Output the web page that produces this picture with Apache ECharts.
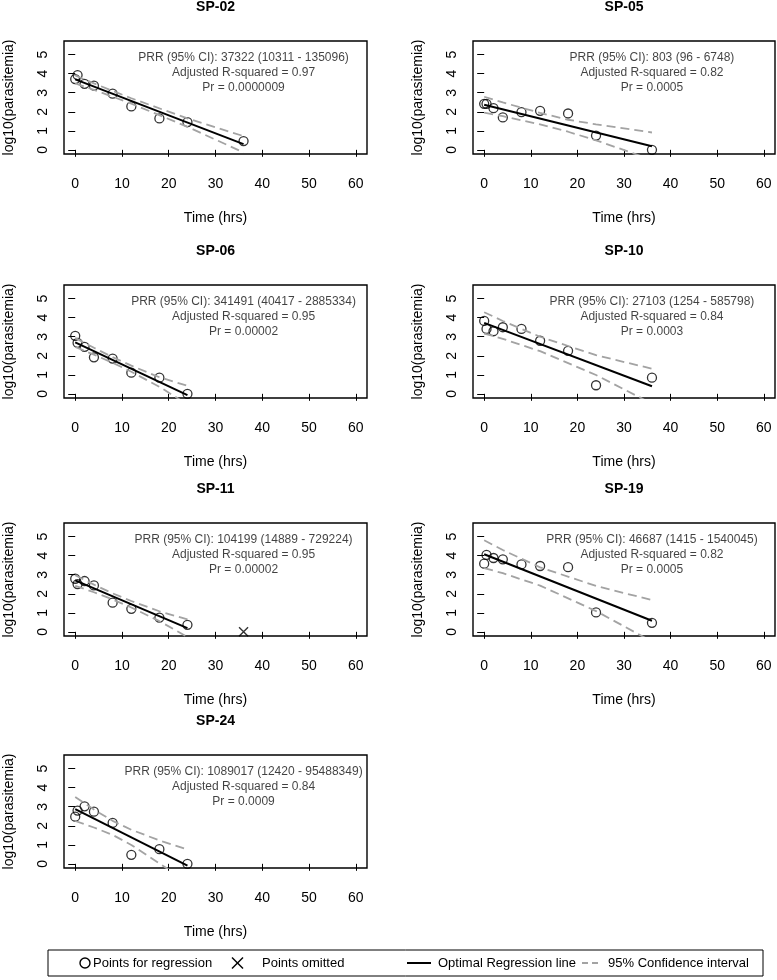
<!DOCTYPE html>
<html><head><meta charset="utf-8">
<script src="https://cdn.jsdelivr.net/npm/echarts@6/dist/echarts.min.js"></script>
<style>html,body{margin:0;padding:0;background:#fff}#c{width:777px;height:980px}</style>
</head><body><div id="c"></div>
<script>
// ---------- tick labels ----------
const xTicks = [0, 10, 20, 30, 40, 50, 60];
const yTicks = [0, 1, 2, 3, 4, 5];

// ---------- panel names ----------
const panelNames = ['SP-02', 'SP-05', 'SP-06', 'SP-10', 'SP-11', 'SP-19', 'SP-24'];

// ---------- observed points (time hrs, log10 parasitemia) ----------
const sp02Time = [0, 0.5, 2, 4, 8, 12, 18, 24, 36];
const sp02Log  = [3.72, 3.93, 3.47, 3.37, 2.95, 2.28, 1.65, 1.46, 0.46];
const sp05Time = [0, 0.5, 2, 4, 8, 12, 18, 24, 36];
const sp05Log  = [2.42, 2.42, 2.19, 1.70, 1.98, 2.05, 1.91, 0.75, 0.0];
const sp06Time = [0, 0.5, 2, 4, 8, 12, 18, 24];
const sp06Log  = [3.05, 2.68, 2.47, 1.92, 1.85, 1.11, 0.85, 0.0];
const sp10Time = [0, 0.5, 2, 4, 8, 12, 18, 24, 36];
const sp10Log  = [3.83, 3.41, 3.29, 3.50, 3.41, 2.79, 2.26, 0.45, 0.85];
const sp11Time = [0, 0.5, 2, 4, 8, 12, 18, 24];
const sp11Log  = [2.79, 2.51, 2.67, 2.44, 1.53, 1.21, 0.75, 0.37];
const sp11OmitTime = [36];
const sp11OmitLog  = [0.0];
const sp19Time = [0, 0.5, 2, 4, 8, 12, 18, 24, 36];
const sp19Log  = [3.58, 4.04, 3.88, 3.81, 3.54, 3.46, 3.40, 1.02, 0.47];
const sp24Time = [0, 0.5, 2, 4, 8, 12, 18, 24];
const sp24Log  = [2.48, 2.80, 3.02, 2.74, 2.15, 0.47, 0.77, 0.0];

// ---------- regression line (start, end) ----------
const sp02FitX = [0, 36]; const sp02FitY = [3.70, 0.30];
const sp05FitX = [0, 36]; const sp05FitY = [2.37, 0.19];
const sp06FitX = [0, 24]; const sp06FitY = [2.70, -0.07];
const sp10FitX = [0, 36]; const sp10FitY = [3.73, 0.40];
const sp11FitX = [0, 24]; const sp11FitY = [2.70, 0.19];
const sp19FitX = [0, 36]; const sp19FitY = [4.08, 0.58];
const sp24FitX = [0, 24]; const sp24FitY = [2.88, -0.10];

// ---------- 95% confidence interval ----------
const sp02CiX = [0, 4, 12, 24, 36];
const sp02CiUp = [3.91, 3.49, 2.71, 1.65, 0.72];
const sp02CiLo = [3.49, 3.15, 2.43, 1.21, -0.14];
const sp05CiX = [0, 4, 12, 18, 24, 36];
const sp05CiUp = [2.79, 2.49, 1.94, 1.58, 1.34, 0.91];
const sp05CiLo = [1.95, 1.77, 1.34, 0.95, 0.50, -0.53];
const sp06CiX = [0, 4, 8, 12, 18, 24];
const sp06CiUp = [2.94, 2.42, 1.93, 1.48, 0.87, 0.42];
const sp06CiLo = [2.46, 2.06, 1.63, 1.16, 0.37, -0.56];
const sp10CiX = [0, 4, 12, 24, 36];
const sp10CiUp = [4.29, 3.83, 3.00, 2.03, 1.32];
const sp10CiLo = [3.17, 2.89, 2.24, 0.99, -0.52];
const sp11CiX = [0, 4, 8, 12, 18, 24];
const sp11CiUp = [2.98, 2.48, 2.02, 1.62, 1.08, 0.65];
const sp11CiLo = [2.42, 2.08, 1.70, 1.28, 0.56, -0.27];
const sp19CiX = [0, 4, 12, 24, 36];
const sp19CiUp = [4.81, 4.30, 3.39, 2.41, 1.67];
const sp19CiLo = [3.35, 3.08, 2.43, 1.09, -0.51];
const sp24CiX = [0, 4, 8, 12, 18, 24];
const sp24CiUp = [3.51, 2.85, 2.26, 1.79, 1.23, 0.75];
const sp24CiLo = [2.25, 1.91, 1.52, 0.99, 0.02, -0.95];

// ---------- annotation texts ----------
const prrTexts = [
  'PRR (95% CI): 37322 (10311 - 135096)',
  'PRR (95% CI): 803 (96 - 6748)',
  'PRR (95% CI): 341491 (40417 - 2885334)',
  'PRR (95% CI): 27103 (1254 - 585798)',
  'PRR (95% CI): 104199 (14889 - 729224)',
  'PRR (95% CI): 46687 (1415 - 1540045)',
  'PRR (95% CI): 1089017 (12420 - 95488349)'
];
const r2Texts = ['0.97', '0.82', '0.95', '0.84', '0.95', '0.82', '0.84'];
const prTexts = ['0.0000009', '0.0005', '0.00002', '0.0003', '0.00002', '0.0005', '0.0009'];

// ---------- legend labels ----------
const legendLabels = ['Points for regression', 'Points omitted', 'Optimal Regression line', '95% Confidence interval'];

// ======================================================
const FONT = '"Liberation Sans", Arial, Helvetica, sans-serif';
const zip = (a, b) => a.map((v, i) => [v, b[i]]);

const panels = [
  {pts: zip(sp02Time, sp02Log), fit: zip(sp02FitX, sp02FitY), up: zip(sp02CiX, sp02CiUp), lo: zip(sp02CiX, sp02CiLo)},
  {pts: zip(sp05Time, sp05Log), fit: zip(sp05FitX, sp05FitY), up: zip(sp05CiX, sp05CiUp), lo: zip(sp05CiX, sp05CiLo)},
  {pts: zip(sp06Time, sp06Log), fit: zip(sp06FitX, sp06FitY), up: zip(sp06CiX, sp06CiUp), lo: zip(sp06CiX, sp06CiLo)},
  {pts: zip(sp10Time, sp10Log), fit: zip(sp10FitX, sp10FitY), up: zip(sp10CiX, sp10CiUp), lo: zip(sp10CiX, sp10CiLo)},
  {pts: zip(sp11Time, sp11Log), fit: zip(sp11FitX, sp11FitY), up: zip(sp11CiX, sp11CiUp), lo: zip(sp11CiX, sp11CiLo), omit: zip(sp11OmitTime, sp11OmitLog)},
  {pts: zip(sp19Time, sp19Log), fit: zip(sp19FitX, sp19FitY), up: zip(sp19CiX, sp19CiUp), lo: zip(sp19CiX, sp19CiLo)},
  {pts: zip(sp24Time, sp24Log), fit: zip(sp24FitX, sp24FitY), up: zip(sp24CiX, sp24CiUp), lo: zip(sp24CiX, sp24CiLo)}
];

const colLeft = [64, 473];
const colWidth = [303, 302];
const rowTop = [41, 285, 523, 755];
const plotH = 113;

const grids = [], xAxes = [], yAxes = [], series = [], graphics = [];

panels.forEach((p, i) => {
  const col = i % 2, row = Math.floor(i / 2);
  const L = colLeft[col], W = colWidth[col], T = rowTop[row];
  grids.push({left: L, top: T, width: W, height: plotH, show: true,
    borderColor: '#000', borderWidth: 1.4, backgroundColor: 'rgba(0,0,0,0)', containLabel: false});
  xAxes.push({
    gridIndex: i, type: 'value', min: -2.4, max: 62.4,
    axisLine: {show: false},
    axisTick: {show: true, inside: false, length: 7, customValues: xTicks, lineStyle: {color: '#000', width: 1}},
    axisLabel: {show: true, customValues: xTicks, margin: 23, fontSize: 14, color: '#000', fontFamily: FONT},
    splitLine: {show: false},
    name: 'Time (hrs)', nameLocation: 'middle', nameGap: 57,
    nameTextStyle: {fontSize: 14, color: '#000', fontFamily: FONT}
  });
  yAxes.push({
    gridIndex: i, type: 'value', min: -0.22, max: 5.72,
    axisLine: {show: false},
    axisTick: {show: true, inside: false, length: 7, customValues: yTicks, lineStyle: {color: '#000', width: 1}},
    axisLabel: {show: true, customValues: yTicks, rotate: 90, margin: 14, fontSize: 14, color: '#000', fontFamily: FONT},
    splitLine: {show: false},
    name: 'log10(parasitemia)', nameLocation: 'middle', nameRotate: 90, nameGap: 48,
    nameTextStyle: {fontSize: 14, color: '#000', fontFamily: FONT}
  });
  series.push({
    type: 'scatter', xAxisIndex: i, yAxisIndex: i, data: p.pts, symbol: 'circle', symbolSize: 9,
    itemStyle: {color: 'rgba(0,0,0,0)', borderColor: '#000', borderWidth: 1.3}, z: 2, silent: true
  });
  if (p.omit) {
    series.push({
      type: 'scatter', xAxisIndex: i, yAxisIndex: i, data: p.omit,
      symbol: 'path://M0,0L10,10M10,0L0,10', symbolSize: 9,
      itemStyle: {color: 'none', borderColor: '#000', borderWidth: 1.4}, z: 2, silent: true
    });
  }
  ['up', 'lo'].forEach(k => series.push({
    type: 'line', xAxisIndex: i, yAxisIndex: i, data: p[k], showSymbol: false, symbol: 'none',
    lineStyle: {color: '#a3a3a3', width: 1.8, type: [9, 5]}, z: 3, silent: true, clip: true
  }));
  series.push({
    type: 'line', xAxisIndex: i, yAxisIndex: i, data: p.fit, showSymbol: false, symbol: 'none',
    lineStyle: {color: '#000', width: 2}, z: 4, silent: true, clip: true
  });
  series.push({
    type: 'scatter', xAxisIndex: i, yAxisIndex: i, data: [[36, 4.05]], symbolSize: 1,
    itemStyle: {color: 'rgba(0,0,0,0)'}, silent: true, z: 5,
    label: {show: true, position: 'inside', align: 'center', verticalAlign: 'middle',
      formatter: prrTexts[i] + '\nAdjusted R-squared = ' + r2Texts[i] + '\nPr = ' + prTexts[i],
      fontSize: 12, lineHeight: 14.6, color: '#111', fontFamily: FONT}
  });
  graphics.push({
    type: 'text', x: L + W / 2, y: T - 34,
    style: {text: panelNames[i], font: 'bold 14px ' + FONT, fill: '#000',
      align: 'center', verticalAlign: 'middle', textAlign: 'center', textVerticalAlign: 'middle'}
  });
});

// ---------- legend box ----------
const LY = 963;
const txt = (s, x) => ({type: 'text', x: x, y: LY,
  style: {text: s, font: '13px ' + FONT, fill: '#000', align: 'left', verticalAlign: 'middle', textAlign: 'left', textVerticalAlign: 'middle'}});
graphics.push(
  {type: 'rect', shape: {x: 48, y: 950, width: 715, height: 26}, style: {fill: 'none', stroke: '#000', lineWidth: 1}},
  {type: 'circle', shape: {cx: 85, cy: LY, r: 5}, style: {fill: 'none', stroke: '#000', lineWidth: 1.4}},
  txt(legendLabels[0], 93),
  {type: 'line', shape: {x1: 232, y1: LY - 5.5, x2: 243, y2: LY + 5.5}, style: {stroke: '#000', lineWidth: 1.4}},
  {type: 'line', shape: {x1: 232, y1: LY + 5.5, x2: 243, y2: LY - 5.5}, style: {stroke: '#000', lineWidth: 1.4}},
  txt(legendLabels[1], 262),
  {type: 'line', shape: {x1: 407, y1: LY, x2: 431, y2: LY}, style: {stroke: '#000', lineWidth: 2}},
  txt(legendLabels[2], 438),
  {type: 'line', shape: {x1: 582, y1: LY, x2: 601, y2: LY}, style: {stroke: '#a3a3a3', lineWidth: 1.8, lineDash: [6, 4]}},
  txt(legendLabels[3], 608)
);

const chart = echarts.init(document.getElementById('c'), null, {renderer: 'canvas'});
chart.setOption({
  animation: false,
  backgroundColor: '#fff',
  grid: grids, xAxis: xAxes, yAxis: yAxes, series: series,
  graphic: graphics
});
</script></body></html>
